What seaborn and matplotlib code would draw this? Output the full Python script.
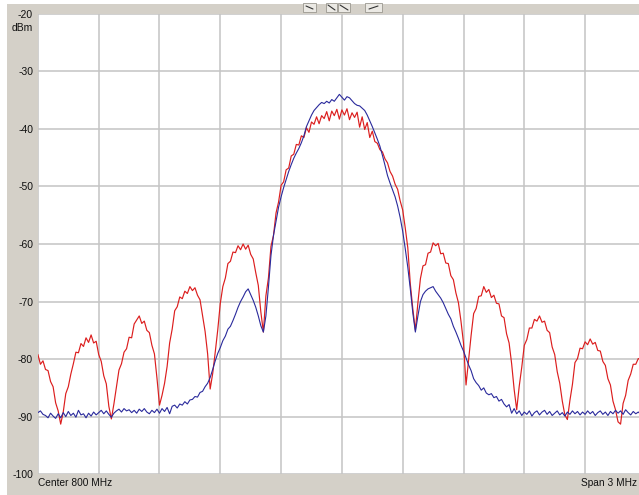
import numpy as np
import pandas as pd
import matplotlib
matplotlib.use("Agg")
import matplotlib.pyplot as plt
from matplotlib.patches import Rectangle
import seaborn as sns

# ---- data ----
span_mhz = 3.0
n_points = 241
freq_offset = np.linspace(-span_mhz / 2, span_mhz / 2, n_points)  # analyzer sweep grid, MHz from centre

red_trace = [
    -79.2, -80.9, -80.3, -81.8, -82.0, -83.9, -84.8, -87.6, -89.0, -91.3,
    -89.2, -86.0, -84.8, -82.6, -80.8, -78.8, -78.9, -77.3, -77.8, -76.3,
    -77.1, -75.8, -77.2, -76.9, -79.2, -80.4, -82.9, -84.3, -88.2, -90.4,
    -87.8, -84.8, -81.9, -80.8, -78.8, -78.2, -76.2, -76.3, -73.9, -73.2,
    -72.5, -73.8, -73.4, -75.0, -75.4, -77.6, -79.1, -83.3, -88.0, -86.3,
    -84.2, -81.3, -77.2, -74.8, -71.6, -70.9, -69.2, -69.5, -68.2, -68.6,
    -67.4, -68.1, -67.6, -68.9, -69.7, -72.5, -75.2, -79.1, -85.2, -82.5,
    -78.8, -74.9, -70.3, -67.4, -65.9, -63.4, -63.0, -61.4, -61.5, -60.3,
    -61.0, -60.0, -60.9, -60.2, -61.8, -62.6, -65.0, -67.2, -71.8, -75.3,
    -69.0, -65.9, -60.4, -58.5, -54.6, -52.7, -49.8, -49.2, -47.1, -46.8,
    -44.7, -44.4, -42.7, -42.8, -41.2, -41.5, -39.8, -40.6, -38.8, -39.2,
    -37.9, -39.1, -37.7, -38.2, -37.0, -38.6, -36.9, -37.7, -36.6, -38.3,
    -36.7, -37.6, -36.5, -38.4, -37.2, -38.0, -37.1, -39.7, -37.9, -40.1,
    -38.9, -41.5, -40.4, -42.2, -42.5, -43.6, -44.0, -45.2, -45.9, -47.4,
    -48.2, -49.6, -50.5, -52.5, -54.1, -57.2, -60.6, -66.9, -71.3, -75.0,
    -70.2, -66.0, -63.8, -63.6, -61.6, -61.4, -59.8, -60.3, -59.9, -61.7,
    -61.6, -63.3, -63.4, -65.5, -66.2, -68.5, -70.2, -73.4, -77.2, -84.5,
    -80.2, -75.9, -72.1, -71.2, -69.1, -69.0, -67.4, -68.4, -67.9, -69.3,
    -68.9, -70.3, -70.4, -72.5, -72.8, -75.6, -77.2, -80.8, -85.3, -88.8,
    -84.7, -81.4, -77.6, -76.6, -74.6, -74.6, -73.1, -73.4, -72.5, -73.6,
    -73.4, -75.0, -75.4, -77.9, -79.2, -82.2, -84.2, -87.3, -89.7, -90.5,
    -87.2, -84.4, -80.6, -79.9, -78.1, -78.2, -77.0, -77.5, -76.5, -77.4,
    -77.1, -78.5, -78.6, -80.4, -81.1, -83.4, -84.5, -87.3, -88.8, -90.9,
    -91.3, -87.7, -86.3, -83.7, -82.6, -80.9, -80.9, -79.9, -80.1, -79.2,
    -79.5,
]

blue_trace = [
    -89.3, -89.0, -89.6, -89.8, -90.2, -89.4, -89.9, -90.3, -89.5, -90.2,
    -89.3, -90.0, -89.1, -89.8, -89.4, -90.1, -88.9, -89.7, -89.5, -90.2,
    -89.4, -89.9, -89.2, -89.7, -89.3, -88.9, -89.5, -89.0, -89.6, -90.1,
    -89.4, -89.0, -88.7, -89.2, -88.6, -89.0, -88.8, -89.3, -88.9, -89.4,
    -88.7, -89.1, -88.6, -89.2, -89.5, -88.9, -89.3, -88.7, -89.4, -88.6,
    -89.1, -88.4, -89.5, -88.2, -88.0, -88.5, -87.8, -88.0, -87.4, -87.8,
    -87.1, -87.0, -86.5, -86.6, -85.8, -85.6, -84.8, -84.2, -83.2, -81.8,
    -80.3, -79.0, -78.0, -76.8, -76.0, -74.8, -74.3, -73.3, -72.2, -71.0,
    -70.0, -69.2, -68.3, -67.8, -68.8, -69.8, -71.0, -72.5, -74.2, -75.3,
    -72.5, -67.5, -62.0, -58.5, -56.0, -53.6, -51.8, -50.2, -48.8, -47.4,
    -46.2, -45.1, -44.2, -43.4, -42.4, -41.2, -39.6, -38.6, -37.6, -36.8,
    -36.3, -35.8, -35.4, -35.6, -35.2, -35.5, -34.9, -35.2, -34.6, -34.0,
    -34.5, -35.0, -34.4, -34.6, -35.1, -35.6, -35.9, -36.0, -36.4, -36.8,
    -37.6, -38.6, -39.6, -40.7, -41.8, -43.0, -44.6, -46.3, -48.1, -49.4,
    -50.6, -51.8, -53.4, -55.4, -57.8, -60.8, -64.0, -67.8, -72.0, -75.3,
    -72.5, -70.0, -68.8, -68.2, -67.8, -67.6, -67.4, -68.2, -68.8, -69.4,
    -70.2, -71.2, -72.2, -73.0, -74.3, -75.3, -76.4, -77.6, -78.6, -79.8,
    -81.0, -82.0, -83.4, -84.1, -84.6, -85.4, -85.0, -85.9, -86.2, -86.0,
    -86.7, -86.5, -87.3, -87.0, -87.8, -88.3, -87.9, -89.4, -88.6, -89.5,
    -89.0, -89.8, -89.2, -89.6, -89.0, -89.9, -89.3, -89.0, -89.7, -89.2,
    -88.9, -89.6, -89.1, -89.8, -89.4, -89.0, -89.7, -89.3, -89.9, -89.2,
    -89.6, -89.0, -89.5, -89.1, -89.7, -89.2, -89.6, -89.0, -89.5, -89.1,
    -89.8, -89.3, -89.0, -89.6, -89.2, -89.8, -89.1, -89.5, -88.9, -89.4,
    -89.0, -89.6, -88.8, -89.3, -89.7, -89.1, -89.5, -89.2, -89.6, -89.0,
    -89.3,
]

y_ticks = [-20, -30, -40, -50, -60, -70, -80, -90, -100]
y_tick_labels = ["-20", "-30", "-40", "-50", "-60", "-70", "-80", "-90", "-100"]
unit_label = "dBm"
center_label = "Center 800 MHz"
span_label = "Span 3 MHz"

df = pd.DataFrame({"freq": freq_offset, "red": red_trace, "blue": blue_trace})

# ---- figure ----
sns.set_style("white")
plt.rcParams["font.family"] = ["Liberation Sans", "DejaVu Sans"]

W, H = 639, 495
fig = plt.figure(figsize=(W / 100, H / 100), dpi=100)
frame_gray = "#d4d0c8"
fig.patch.set_facecolor(frame_gray)
# thin white margins at top and left of the window frame
fig.add_artist(Rectangle((0, 1 - 4 / H), 1, 4 / H, transform=fig.transFigure,
                         facecolor="white", edgecolor="none", zorder=0))
fig.add_artist(Rectangle((0, 0), 7 / W, 1, transform=fig.transFigure,
                         facecolor="white", edgecolor="none", zorder=0))

left_px, right_px, top_px, bottom_px = 37.9, 645.9, 13.8, 474.2
ax = fig.add_axes([left_px / W, 1 - bottom_px / H,
                   (right_px - left_px) / W, (bottom_px - top_px) / H])
ax.set_facecolor("white")

sns.lineplot(data=df, x="freq", y="red", ax=ax, color="#dc1e1e", linewidth=0.85,
             estimator=None, sort=False, zorder=3)
sns.lineplot(data=df, x="freq", y="blue", ax=ax, color="#2a2a9c", linewidth=0.8,
             estimator=None, sort=False, zorder=4)

ax.set_xlim(-span_mhz / 2, span_mhz / 2)
ax.set_ylim(-100, -20)
ax.set_xticks(np.arange(-1.5, 1.51, 0.3))
ax.set_yticks(y_ticks)
ax.set_yticklabels(y_tick_labels)
ax.set_xticklabels([])
ax.grid(True, color="#c4c4c4", linewidth=1.1)
ax.set_axisbelow(True)
for s in ax.spines.values():
    s.set_visible(False)
ax.tick_params(axis="both", length=0)
ax.tick_params(axis="y", pad=3.5, labelsize=7.5, labelcolor="#111111")
ax.set_xlabel("")
ax.set_ylabel("")

# unit label under the top tick
fig.text(33 / W, 1 - 28 / H, unit_label, ha="right", va="center", fontsize=7.5, color="#111111")
# bottom annotations
fig.text(38 / W, 1 - 483 / H, center_label, ha="left", va="center", fontsize=7.3, color="#111111")
fig.text(637 / W, 1 - 483 / H, span_label, ha="right", va="center", fontsize=7.3, color="#111111")

# small toolbar buttons at the top centre
for bx, bw in [(303, 13), (326, 11), (338, 12), (365, 17)]:
    fig.add_artist(Rectangle((bx / W, 1 - 12 / H), bw / W, 9 / H, transform=fig.transFigure,
                             facecolor="#ebe9e4", edgecolor="#9a978f", linewidth=0.6, zorder=5))
fig.add_artist(plt.Line2D([306 / W, 313 / W], [1 - 6 / H, 1 - 9 / H], transform=fig.transFigure,
                          color="#333333", linewidth=0.8, zorder=6))
fig.add_artist(plt.Line2D([328 / W, 335 / W], [1 - 5 / H, 1 - 10 / H], transform=fig.transFigure,
                          color="#333333", linewidth=0.8, zorder=6))
fig.add_artist(plt.Line2D([340 / W, 348 / W], [1 - 5 / H, 1 - 10 / H], transform=fig.transFigure,
                          color="#333333", linewidth=0.8, zorder=6))
fig.add_artist(plt.Line2D([369 / W, 378 / W], [1 - 9 / H, 1 - 6 / H], transform=fig.transFigure,
                          color="#333333", linewidth=0.8, zorder=6))

fig.savefig("out.png", dpi=100, facecolor=fig.get_facecolor())
